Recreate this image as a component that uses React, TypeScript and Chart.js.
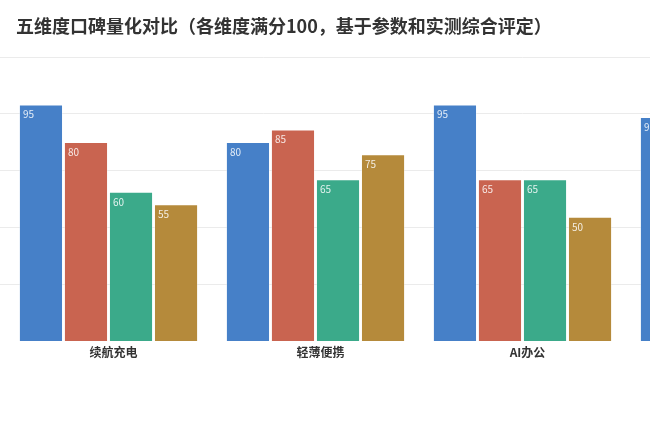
import { Chart, registerables } from "chart.js"
import { useEffect, useRef } from "react"

Chart.register(...registerables)

// 维度（后两项在截图中不可见，名称为估计）
const dimensions = ["续航充电", "轻薄便携", "AI办公", "性能释放", "屏幕素质"]
const seriesNames = ["机型A", "机型B", "机型C", "机型D"]
const seriesA = [95, 80, 95, 90, 85]
const seriesB = [80, 85, 65, 75, 80]
const seriesC = [60, 65, 65, 70, 75]
const seriesD = [55, 75, 50, 60, 70]
const seriesColors = ["#4680C8", "#C96450", "#3BAA8A", "#B58A3B"]

const FONT = "'Noto Sans CJK SC', 'Noto Sans', sans-serif"

const valueLabels = {
    id: "valueLabels",
    afterDatasetsDraw(chart: Chart) {
        const ctx = chart.ctx
        ctx.save()
        ctx.font = `10px ${FONT}`
        ctx.fillStyle = "rgba(255,255,255,0.85)"
        ctx.textAlign = "left"
        ctx.textBaseline = "middle"
        chart.data.datasets.forEach((ds, i) => {
            const meta = chart.getDatasetMeta(i)
            meta.data.forEach((bar: any, j) => {
                const { x, y, width } = bar.getProps(["x", "y", "width"], true)
                ctx.fillText(String(ds.data[j]), x - width / 2 + 4, y + 10)
            })
        })
        ctx.restore()
    },
}

const App = () => {
    const canvasRef = useRef<HTMLCanvasElement>(null)

    useEffect(() => {
        if (!canvasRef.current) return
        const all = [seriesA, seriesB, seriesC, seriesD]
        const chart = new Chart(canvasRef.current, {
            type: "bar",
            data: {
                labels: dimensions,
                datasets: all.map((d, i) => ({
                    label: seriesNames[i],
                    data: d,
                    backgroundColor: seriesColors[i],
                    borderColor: "rgba(255,255,255,0.35)",
                    borderWidth: 1,
                    categoryPercentage: 0.87,
                    barPercentage: 0.98,
                })),
            },
            options: {
                responsive: false,
                animation: false,
                devicePixelRatio: 1,
                layout: { padding: { top: 57, left: 0, right: 5, bottom: 82 } },
                plugins: {
                    legend: { display: false },
                    title: { display: false },
                    tooltip: { enabled: false },
                },
                scales: {
                    x: {
                        grid: { display: false, drawTicks: false },
                        border: { display: false },
                        ticks: {
                            color: "#333",
                            font: { family: FONT, size: 12, weight: "bold" },
                            padding: 4,
                            labelOffset: 5,
                        },
                    },
                    y: {
                        min: 0,
                        max: 114,
                        border: { display: false },
                        grid: {
                            color: (c: any) => (c.tick && c.tick.value === 0 ? "rgba(0,0,0,0)" : "#ebebeb"),
                            drawTicks: true,
                            tickLength: 5,
                        },
                        ticks: { display: false, count: 6 },
                    },
                },
            },
            plugins: [valueLabels],
        })
        return () => {
            chart.destroy()
        }
    }, [])

    return (
        <div style={{ position: "fixed", left: 0, top: 0, width: 650, height: 446, overflow: "hidden", background: "#fff" }}>
            <div
                style={{
                    position: "absolute",
                    left: 16,
                    top: 12,
                    lineHeight: "26px",
                    fontSize: 18,
                    fontWeight: "bold",
                    color: "#333",
                    fontFamily: FONT,
                    whiteSpace: "nowrap",
                    zIndex: 1,
                }}
            >
                五维度口碑量化对比（各维度满分100，基于参数和实测综合评定）
            </div>
            <canvas ref={canvasRef} width={1045} height={446} style={{ position: "absolute", left: 0, top: 0 }}></canvas>
        </div>
    )
}

export default App
